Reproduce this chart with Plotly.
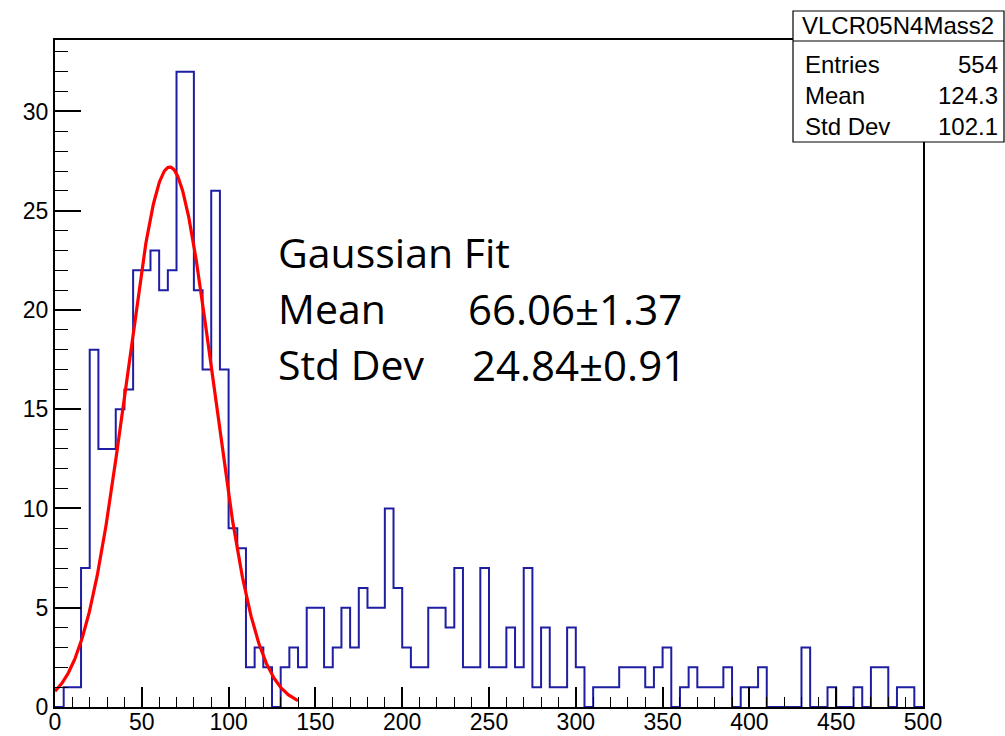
import numpy as np
import plotly.graph_objects as go

# ---------------- data ----------------
BIN_LOW = 0.0
BIN_WIDTH = 5.0
counts = [
    0, 1, 1, 7, 18, 13, 13, 15, 16, 22,
    22, 23, 21, 22, 32, 32, 21, 17, 26, 17,
    9, 8, 2, 3, 2, 0, 2, 3, 2, 5,
    5, 2, 3, 5, 3, 6, 5, 5, 10, 6,
    3, 2, 2, 5, 5, 4, 7, 2, 2, 7,
    2, 2, 4, 2, 7, 1, 4, 1, 1, 4,
    2, 0, 1, 1, 1, 2, 2, 2, 1, 2,
    3, 0, 1, 2, 1, 1, 1, 2, 0, 1,
    1, 2, 0, 0, 0, 0, 3, 0, 0, 1,
    0, 0, 1, 0, 2, 2, 0, 1, 1, 0,
]
fit_const = 27.2
fit_mean = 66.06
fit_sigma = 24.84
fit_range = [0.0, 140.0]

stats_name = "VLCR05N4Mass2"
stats_labels = ["Entries", "Mean", "Std Dev"]
stats_values = ["554", "124.3", "102.1"]

fit_title = "Gaussian Fit"
fit_labels = ["Mean", "Std Dev"]
fit_values = ["66.06\u00b11.37", "24.84\u00b10.91"]

x_range = [0, 500]
y_range = [0, 33.6]

# ---------------- layout geometry ----------------
W, H = 1005, 736
ML, MR, MT, MB = 55, 82, 40, 29
PW, PH = W - ML - MR, H - MT - MB


def px(p):
    return (p - ML) / PW


def py(p):
    return (H - MB - p) / PH


# histogram step outline
n = len(counts)
edges = [BIN_LOW + i * BIN_WIDTH for i in range(n + 1)]
hx = [edges[0]] + edges[:n] + [edges[n], edges[n]]
hy = [0] + counts + [counts[-1], 0]

fx = np.linspace(fit_range[0], fit_range[1], 400)
fy = fit_const * np.exp(-0.5 * ((fx - fit_mean) / fit_sigma) ** 2)

fig = go.Figure()
fig.add_trace(go.Scatter(x=hx, y=hy, mode="lines", line=dict(color="#1e1ea3", width=2, shape="hv"),
                         hoverinfo="skip", showlegend=False))
fig.add_trace(go.Scatter(x=fx, y=fy, mode="lines", line=dict(color="#ff0000", width=3.2),
                         hoverinfo="skip", showlegend=False))

axis_font = dict(family="Liberation Sans, Arial, sans-serif", size=23, color="black")
fig.update_xaxes(range=x_range, showgrid=False, zeroline=False, showline=True, linecolor="black",
                 linewidth=1.5, mirror=True, ticks="inside", ticklen=20, tickwidth=1.5, tickcolor="black",
                 dtick=50, tick0=0, tickfont=axis_font, ticklabelstandoff=-6,
                 minor=dict(dtick=10, ticks="inside", ticklen=10, tickwidth=1.2, tickcolor="black"))
fig.update_yaxes(range=y_range, showgrid=False, zeroline=False, showline=True, linecolor="black",
                 linewidth=2, mirror=True, ticks="inside", ticklen=26, tickwidth=1.5, tickcolor="black",
                 dtick=5, tick0=0, tickfont=axis_font, ticklabelstandoff=0,
                 minor=dict(dtick=1, ticks="inside", ticklen=13, tickwidth=1.2, tickcolor="black"))

shapes = []
annotations = []

# stats box
bx0, bx1, by0, by1, bsep = 793, 1004, 11, 142, 41
shapes.append(dict(type="rect", xref="paper", yref="paper", x0=px(bx0), x1=px(bx1), y0=py(by1), y1=py(by0),
                   line=dict(color="black", width=1.2), fillcolor="white", layer="above"))
shapes.append(dict(type="line", xref="paper", yref="paper", x0=px(bx0), x1=px(bx1), y0=py(bsep), y1=py(bsep),
                   line=dict(color="black", width=1.2), layer="above"))
sfont = dict(family="Liberation Sans, Arial, sans-serif", size=24, color="black")
annotations.append(dict(text=stats_name, xref="paper", yref="paper", x=px(898), y=py(25),
                        xanchor="center", yanchor="middle", showarrow=False, font=sfont))
row_y = [64, 96, 126]
for lab, val, yy in zip(stats_labels, stats_values, row_y):
    annotations.append(dict(text=lab, xref="paper", yref="paper", x=px(803), y=py(yy),
                            xanchor="left", yanchor="middle", showarrow=False, font=sfont))
    annotations.append(dict(text=val, xref="paper", yref="paper", x=px(1000), y=py(yy),
                            xanchor="right", yanchor="middle", showarrow=False, font=sfont))

# Gaussian fit text
gfont = dict(family="Open Sans, sans-serif", size=41, color="black")
annotations.append(dict(text=fit_title, xref="paper", yref="paper", x=px(276), y=py(252),
                        xanchor="left", yanchor="middle", showarrow=False, font=gfont))
for lab, val, yy, vx in zip(fit_labels, fit_values, [308, 364], [466, 470]):
    annotations.append(dict(text=lab, xref="paper", yref="paper", x=px(276), y=py(yy),
                            xanchor="left", yanchor="middle", showarrow=False, font=gfont))
    annotations.append(dict(text=val, xref="paper", yref="paper", x=px(vx), y=py(yy),
                            xanchor="left", yanchor="middle", showarrow=False,
                            font=dict(family="Open Sans, sans-serif", size=42, color="black")))

fig.update_layout(width=W, height=H, margin=dict(l=ML, r=MR, t=MT, b=MB, autoexpand=False),
                  paper_bgcolor="white", plot_bgcolor="white", shapes=shapes, annotations=annotations,
                  showlegend=False)

fig.write_html("out.html", config={"displayModeBar": False},
               post_script="document.body.style.margin='0';document.body.style.overflow='hidden';")
